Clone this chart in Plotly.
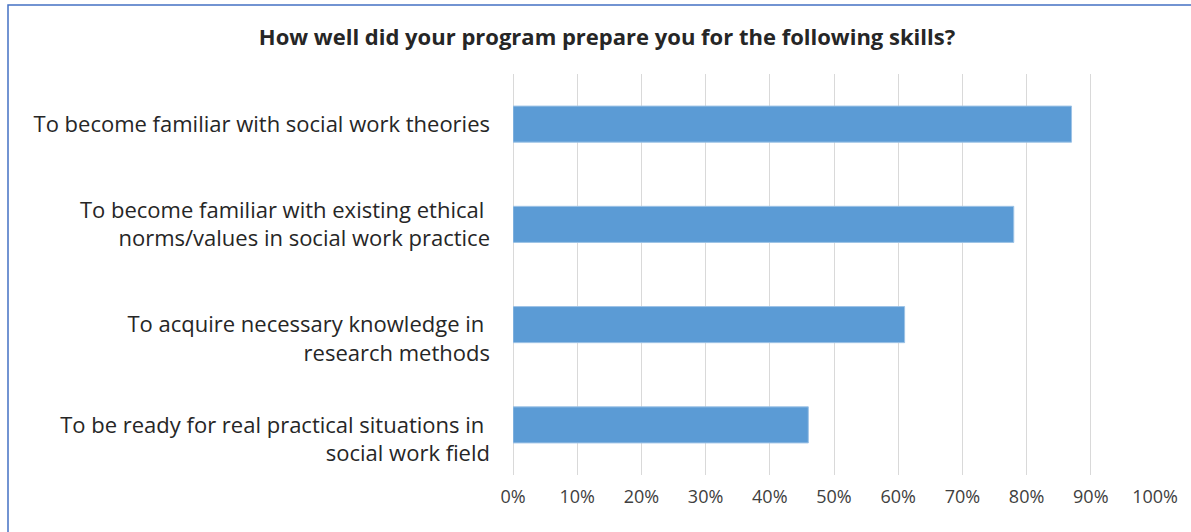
import plotly.graph_objects as go

categories = [
    "To become familiar with social work theories",
    "To become familiar with existing ethical\u00a0<br>norms/values in social work practice",
    "\u00a0<br>To acquire necessary knowledge in\u00a0<br>research methods",
    "\u00a0<br>To be ready for real practical situations in\u00a0<br>social work field",
]
values = [0.87, 0.78, 0.61, 0.46]
tick_vals = [0, 0.1, 0.2, 0.3, 0.4, 0.5, 0.6, 0.7, 0.8, 0.9, 1.0]
tick_text = ["0%", "10%", "20%", "30%", "40%", "50%", "60%", "70%", "80%", "90%", "100%"]
title = "How well did your program prepare you for the following skills?"

FONT = "Open Sans"

fig = go.Figure()
fig.add_trace(go.Bar(
    x=values, y=categories, orientation="h",
    marker=dict(color="#5B9BD5", line=dict(color="#9DC3E6", width=1)),
    hoverinfo="x",
))

fig.update_layout(
    width=1191, height=532,
    margin=dict(l=513, r=36, t=74, b=57),
    paper_bgcolor="white", plot_bgcolor="white",
    bargap=0.64,
    showlegend=False,
    title=dict(text="<b>" + title + "</b>", x=607/1191, xref="container", xanchor="center",
               y=1 - 37/532, yref="container", yanchor="middle",
               font=dict(family=FONT, size=22, color="#262626")),
    font=dict(family=FONT, color="#404040"),
    xaxis=dict(range=[0, 1.0], tickvals=tick_vals, ticktext=tick_text,
               showgrid=True, gridcolor="#D9D9D9", gridwidth=1,
               zeroline=True, zerolinecolor="#D9D9D9", zerolinewidth=1,
               showline=False, ticks="", ticklabelstandoff=9,
               tickfont=dict(size=18, color="#404040"),
               fixedrange=True),
    yaxis=dict(categoryorder="array", categoryarray=categories[::-1],
               showgrid=False, zeroline=False, showline=False, ticks="",
               ticklabelstandoff=22,
               tickfont=dict(size=22, color="#262626"), fixedrange=True),
    shapes=[dict(type="rect", xref="paper", yref="paper",
                 x0=(8 - 513) / 642, x1=1.2, y0=-0.3, y1=(475 - 5) / 401,
                 line=dict(color="#4472C4", width=1.5), fillcolor="rgba(0,0,0,0)",
                 layer="below")],
)

fig.write_html("out.html", config={"displayModeBar": False},
               post_script="document.body.style.margin='0';")
